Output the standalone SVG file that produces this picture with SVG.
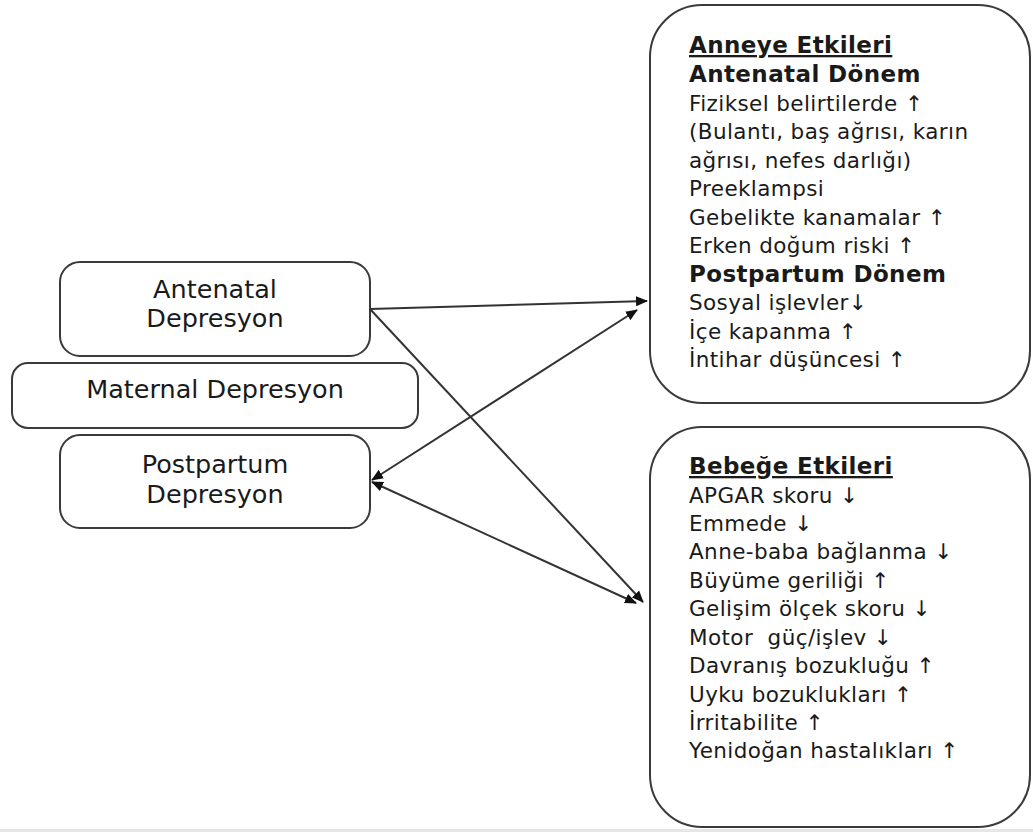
<svg xmlns="http://www.w3.org/2000/svg" width="1033" height="832" viewBox="0 0 1033 832">
<style>
.box{fill:#fff;stroke:#3a3a3a;stroke-width:2}
.t{font-family:"DejaVu Sans","Liberation Sans",sans-serif;font-size:21.5px;letter-spacing:0.4px;fill:#1a1a1a}
.c{text-anchor:middle;font-size:25.5px;letter-spacing:0}
.b{font-weight:bold;font-size:23px}
.u{text-decoration:underline}
.ln{stroke:#333;stroke-width:2;fill:none}
</style>
<defs>
<marker id="ah" viewBox="0 0 12 10" refX="11" refY="5" markerWidth="12" markerHeight="10" markerUnits="userSpaceOnUse" orient="auto-start-reverse">
<path d="M0,0 L12,5 L0,10 z" fill="#111"/>
</marker>
</defs>
<rect x="0" y="829" width="1033" height="3" fill="#e6e6e6"/>
<g id="node-anneye">
<rect class="box" x="650" y="5" width="380" height="398" rx="52"/>
<text class="t b u" x="689" y="53">Anneye Etkileri</text>
<text class="t b" x="689" y="82">Antenatal Dönem</text>
<text class="t" x="689" y="111">Fiziksel belirtilerde ↑</text>
<text class="t" x="689" y="139">(Bulantı, baş ağrısı, karın</text>
<text class="t" x="689" y="168">ağrısı, nefes darlığı)</text>
<text class="t" x="689" y="196">Preeklampsi</text>
<text class="t" x="689" y="225">Gebelikte kanamalar ↑</text>
<text class="t" x="689" y="253">Erken doğum riski ↑</text>
<text class="t b" x="689" y="282">Postpartum Dönem</text>
<text class="t" x="689" y="310">Sosyal işlevler↓</text>
<text class="t" x="689" y="339">İçe kapanma ↑</text>
<text class="t" x="689" y="367">İntihar düşüncesi ↑</text>
</g>
<g id="node-bebege">
<rect class="box" x="650" y="427" width="380" height="400" rx="52"/>
<text class="t b u" x="689" y="474">Bebeğe Etkileri</text>
<text class="t" x="689" y="503">APGAR skoru ↓</text>
<text class="t" x="689" y="531">Emmede ↓</text>
<text class="t" x="689" y="559">Anne-baba bağlanma ↓</text>
<text class="t" x="689" y="588">Büyüme geriliği ↑</text>
<text class="t" x="689" y="616">Gelişim ölçek skoru ↓</text>
<text class="t" x="689" y="645" xml:space="preserve">Motor  güç/işlev ↓</text>
<text class="t" x="689" y="673">Davranış bozukluğu ↑</text>
<text class="t" x="689" y="702">Uyku bozuklukları ↑</text>
<text class="t" x="689" y="730">İrritabilite ↑</text>
<text class="t" x="689" y="758">Yenidoğan hastalıkları ↑</text>
</g>
<g id="node-antenatal">
<rect class="box" x="60" y="262" width="310" height="94" rx="20"/>
<text class="t c" x="215" y="298">Antenatal</text>
<text class="t c" x="215" y="327">Depresyon</text>
</g>
<g id="node-maternal">
<rect class="box" x="12" y="363" width="406" height="65" rx="16"/>
<text class="t c" x="215" y="398">Maternal Depresyon</text>
</g>
<g id="node-postpartum">
<rect class="box" x="60" y="435" width="310" height="93" rx="20"/>
<text class="t c" x="215" y="473">Postpartum</text>
<text class="t c" x="215" y="503">Depresyon</text>
</g>
<g id="connectors">
<line class="ln" x1="370" y1="309" x2="647" y2="301" marker-end="url(#ah)"/>
<line class="ln" x1="370" y1="309" x2="643" y2="602" marker-end="url(#ah)"/>
<line class="ln" x1="372" y1="480" x2="637" y2="310" marker-start="url(#ah)" marker-end="url(#ah)"/>
<line class="ln" x1="372" y1="482" x2="636" y2="603" marker-start="url(#ah)" marker-end="url(#ah)"/>
</g>
</svg>
